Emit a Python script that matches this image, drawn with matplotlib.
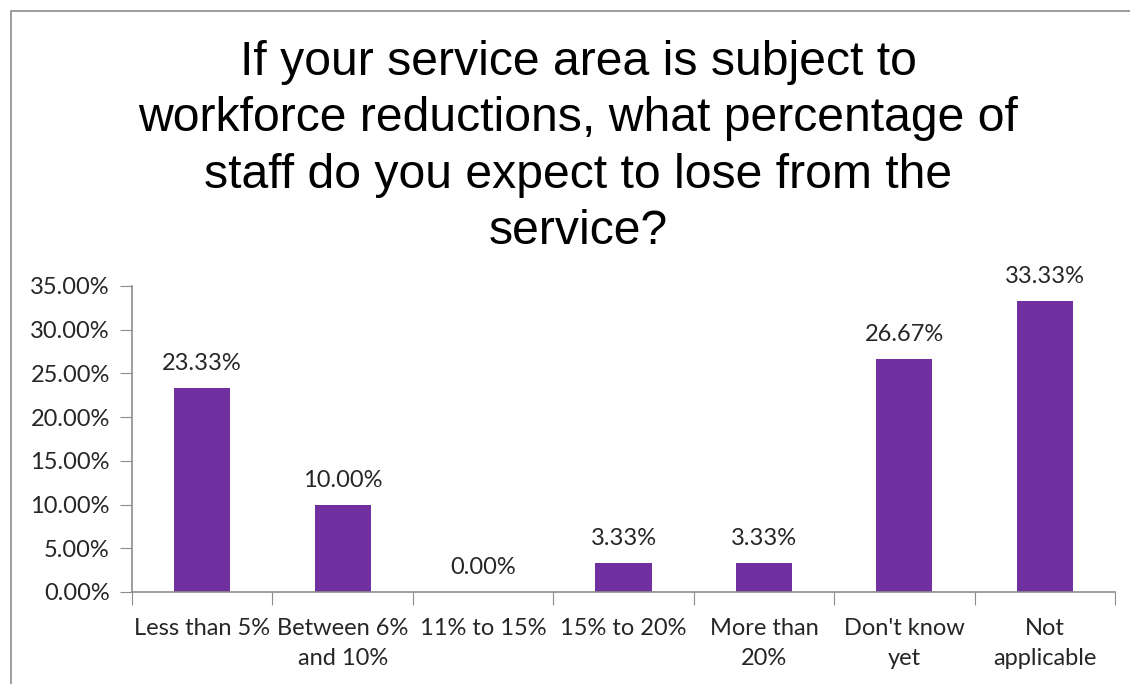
import matplotlib.pyplot as plt
from matplotlib.patches import Rectangle
from matplotlib.ticker import PercentFormatter

categories = ["Less than 5%", "Between 6%\nand 10%", "11% to 15%", "15% to 20%",
              "More than\n20%", "Don't know\nyet", "Not\napplicable"]
shares = [23.33, 10.00, 0.00, 3.33, 3.33, 26.67, 33.33]
yticks = [0, 5, 10, 15, 20, 25, 30, 35]

title = ("If your service area is subject to\n"
         "workforce reductions, what percentage of\n"
         "staff do you expect to lose from the\n"
         "service?")

W, H = 1130, 684
fig = plt.figure(figsize=(W / 100, H / 100), dpi=100)

# chart frame (only top and left edges fall inside the image)
fig.patches.append(Rectangle((11 / W, -0.1), 1.2, 1 - 11 / H + 0.1,
                             transform=fig.transFigure, fill=False,
                             edgecolor="#8c8c8c", linewidth=1.2))

ax = fig.add_axes([132 / W, 1 - 592 / H, (1115 - 132) / W, (592 - 286) / H])
x = range(len(categories))
ax.bar(x, shares, width=0.4, color="#7030A0")
ax.set_xlim(-0.5, len(categories) - 0.5)
ax.set_ylim(0, 35)
ax.set_yticks(yticks)
ax.yaxis.set_major_formatter(PercentFormatter(decimals=2))

for xi, v in zip(x, shares):
    ax.annotate(f"{v:.2f}%", (xi, v), xytext=(0, 10), textcoords="offset points",
                ha="center", va="bottom", fontsize=17, family="Lato", color="#262626")

ax.set_xticks([i - 0.5 for i in range(len(categories) + 1)], minor=False)
ax.set_xticklabels([])
ax.set_xticks(list(x), minor=True)
ax.set_xticklabels(categories, minor=True, fontsize=17, family="Lato",
                   color="#262626", linespacing=1.5)
ax.tick_params(axis="x", which="minor", length=0, pad=19)
ax.tick_params(axis="x", which="major", length=9, color="#8c8c8c")
ax.tick_params(axis="y", length=9, color="#8c8c8c", labelsize=17, labelcolor="#262626", pad=7)
for lab in ax.get_yticklabels():
    lab.set_family("Lato")

for s in ["top", "right"]:
    ax.spines[s].set_visible(False)
for s in ["left", "bottom"]:
    ax.spines[s].set_color("#8c8c8c")
    ax.spines[s].set_linewidth(1.2)

fig.text(578 / W, 1 - 147 / H, title, ha="center", va="center", fontsize=34.7,
         family="Liberation Sans", color="black", linespacing=1.33)

fig.savefig("out.png", dpi=100)
